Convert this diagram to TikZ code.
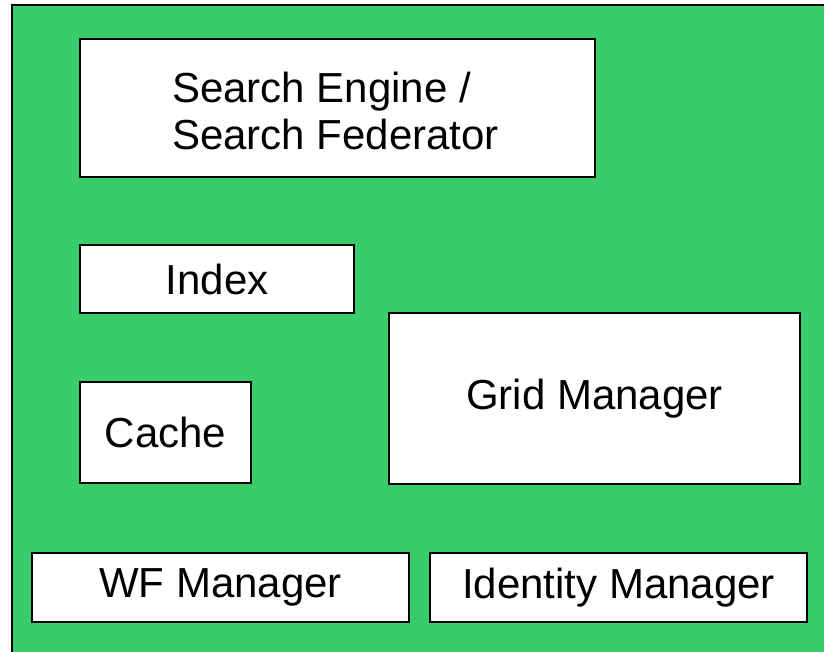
\documentclass[tikz,border=0pt]{standalone}
\usepackage{fontspec}
\setmainfont{Liberation Sans}
\definecolor{bggreen}{HTML}{38CD6A}
\begin{document}
\begin{tikzpicture}[x=1pt,y=-1pt,
  lbl/.style={font=\fontsize{42}{47}\selectfont},
  box/.style={draw=black,line width=1.5pt,fill=white,inner sep=0pt,lbl}]
\useasboundingbox (0,0) rectangle (824,651);
\begin{scope}
\clip (0,0) rectangle (824,651);
\draw[fill=bggreen,line width=1.5pt] (12,5) rectangle (840,670);
\end{scope}
\node[box,minimum width=515pt,minimum height=138pt] (se) at (337.5,108) {};
\node[lbl,inner sep=0pt,anchor=west,align=left] (setext) at (172,111) {Search Engine /\\Search Federator};
\node[box,minimum width=274pt,minimum height=68pt] (idx) at (217,279) {Index};
\node[box,minimum width=171pt,minimum height=101pt] (cache) at (165.5,432.5) {Cache};
\node[box,minimum width=411pt,minimum height=171pt] (grid) at (594.5,398.5) {Grid Manager};
\node[box,minimum width=377pt,minimum height=69pt] (wf) at (220.5,587.5) {WF Manager};
\node[box,minimum width=377pt,minimum height=69pt] (id) at (618.5,587.5) {Identity Manager};
\end{tikzpicture}
\end{document}
